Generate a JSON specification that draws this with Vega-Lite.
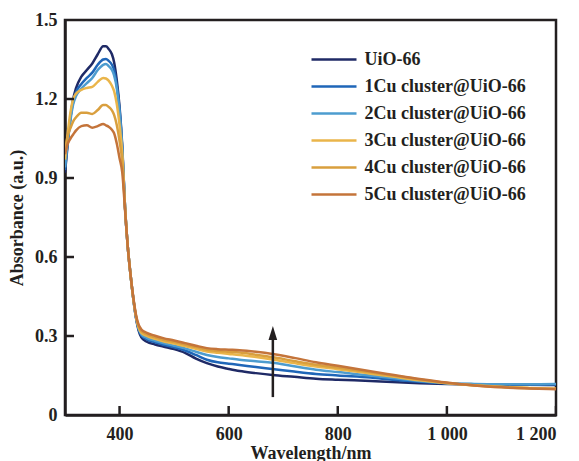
{
  "$schema": "https://vega.github.io/schema/vega-lite/v6.json",
  "autosize": {"type": "none"},
  "padding": {"left": 65, "top": 20, "right": 23, "bottom": 46},
  "width": 491,
  "height": 395,
  "config": {
    "font": "Liberation Serif",
    "view": {"stroke": "#231f20", "strokeWidth": 2.5},
    "axis": {
      "domainColor": "#231f20", "domainWidth": 2.5, "tickColor": "#231f20", "tickWidth": 2.5,
      "labelFont": "Liberation Serif", "labelFontSize": 18, "labelFontWeight": "bold",
      "labelColor": "#231f20", "titleFont": "Liberation Serif", "titleFontSize": 18, "titleFontWeight": "bold",
      "titleColor": "#231f20", "grid": false
    },
    "legend": {"labelFont": "Liberation Serif", "labelFontSize": 18, "labelFontWeight": "bold", "labelColor": "#231f20", "labelLimit": 0}
  },
  "datasets": {
    "spectra": [
      {"nm":300,"UiO-66":0.92,"1Cu cluster@UiO-66":0.93,"2Cu cluster@UiO-66":0.94,"3Cu cluster@UiO-66":0.97,"4Cu cluster@UiO-66":1.0,"5Cu cluster@UiO-66":0.99},
      {"nm":305,"UiO-66":1.03,"1Cu cluster@UiO-66":1.04,"2Cu cluster@UiO-66":1.04,"3Cu cluster@UiO-66":1.07,"4Cu cluster@UiO-66":1.06,"5Cu cluster@UiO-66":1.03},
      {"nm":310,"UiO-66":1.13,"1Cu cluster@UiO-66":1.13,"2Cu cluster@UiO-66":1.12,"3Cu cluster@UiO-66":1.15,"4Cu cluster@UiO-66":1.09,"5Cu cluster@UiO-66":1.05},
      {"nm":315,"UiO-66":1.20,"1Cu cluster@UiO-66":1.19,"2Cu cluster@UiO-66":1.18,"3Cu cluster@UiO-66":1.20,"4Cu cluster@UiO-66":1.115,"5Cu cluster@UiO-66":1.065},
      {"nm":320,"UiO-66":1.24,"1Cu cluster@UiO-66":1.225,"2Cu cluster@UiO-66":1.21,"3Cu cluster@UiO-66":1.22,"4Cu cluster@UiO-66":1.13,"5Cu cluster@UiO-66":1.08},
      {"nm":330,"UiO-66":1.285,"1Cu cluster@UiO-66":1.257,"2Cu cluster@UiO-66":1.24,"3Cu cluster@UiO-66":1.235,"4Cu cluster@UiO-66":1.148,"5Cu cluster@UiO-66":1.097},
      {"nm":340,"UiO-66":1.31,"1Cu cluster@UiO-66":1.28,"2Cu cluster@UiO-66":1.26,"3Cu cluster@UiO-66":1.242,"4Cu cluster@UiO-66":1.148,"5Cu cluster@UiO-66":1.10},
      {"nm":350,"UiO-66":1.335,"1Cu cluster@UiO-66":1.30,"2Cu cluster@UiO-66":1.28,"3Cu cluster@UiO-66":1.246,"4Cu cluster@UiO-66":1.143,"5Cu cluster@UiO-66":1.091},
      {"nm":360,"UiO-66":1.37,"1Cu cluster@UiO-66":1.33,"2Cu cluster@UiO-66":1.31,"3Cu cluster@UiO-66":1.265,"4Cu cluster@UiO-66":1.158,"5Cu cluster@UiO-66":1.097},
      {"nm":370,"UiO-66":1.40,"1Cu cluster@UiO-66":1.35,"2Cu cluster@UiO-66":1.33,"3Cu cluster@UiO-66":1.28,"4Cu cluster@UiO-66":1.177,"5Cu cluster@UiO-66":1.105},
      {"nm":375,"UiO-66":1.40,"1Cu cluster@UiO-66":1.352,"2Cu cluster@UiO-66":1.333,"3Cu cluster@UiO-66":1.278,"4Cu cluster@UiO-66":1.177,"5Cu cluster@UiO-66":1.10},
      {"nm":380,"UiO-66":1.39,"1Cu cluster@UiO-66":1.345,"2Cu cluster@UiO-66":1.325,"3Cu cluster@UiO-66":1.27,"4Cu cluster@UiO-66":1.17,"5Cu cluster@UiO-66":1.095},
      {"nm":386,"UiO-66":1.37,"1Cu cluster@UiO-66":1.33,"2Cu cluster@UiO-66":1.31,"3Cu cluster@UiO-66":1.25,"4Cu cluster@UiO-66":1.157,"5Cu cluster@UiO-66":1.083},
      {"nm":390,"UiO-66":1.34,"1Cu cluster@UiO-66":1.31,"2Cu cluster@UiO-66":1.29,"3Cu cluster@UiO-66":1.23,"4Cu cluster@UiO-66":1.14,"5Cu cluster@UiO-66":1.07},
      {"nm":395,"UiO-66":1.27,"1Cu cluster@UiO-66":1.25,"2Cu cluster@UiO-66":1.24,"3Cu cluster@UiO-66":1.18,"4Cu cluster@UiO-66":1.10,"5Cu cluster@UiO-66":1.03},
      {"nm":400,"UiO-66":1.17,"1Cu cluster@UiO-66":1.16,"2Cu cluster@UiO-66":1.15,"3Cu cluster@UiO-66":1.10,"4Cu cluster@UiO-66":1.04,"5Cu cluster@UiO-66":0.975},
      {"nm":405,"UiO-66":1.02,"1Cu cluster@UiO-66":1.01,"2Cu cluster@UiO-66":1.01,"3Cu cluster@UiO-66":0.99,"4Cu cluster@UiO-66":0.96,"5Cu cluster@UiO-66":0.92},
      {"nm":410,"UiO-66":0.79,"1Cu cluster@UiO-66":0.79,"2Cu cluster@UiO-66":0.79,"3Cu cluster@UiO-66":0.79,"4Cu cluster@UiO-66":0.79,"5Cu cluster@UiO-66":0.78},
      {"nm":415,"UiO-66":0.64,"1Cu cluster@UiO-66":0.64,"2Cu cluster@UiO-66":0.64,"3Cu cluster@UiO-66":0.64,"4Cu cluster@UiO-66":0.64,"5Cu cluster@UiO-66":0.64},
      {"nm":420,"UiO-66":0.535,"1Cu cluster@UiO-66":0.535,"2Cu cluster@UiO-66":0.535,"3Cu cluster@UiO-66":0.535,"4Cu cluster@UiO-66":0.535,"5Cu cluster@UiO-66":0.535},
      {"nm":425,"UiO-66":0.445,"1Cu cluster@UiO-66":0.445,"2Cu cluster@UiO-66":0.445,"3Cu cluster@UiO-66":0.445,"4Cu cluster@UiO-66":0.447,"5Cu cluster@UiO-66":0.45},
      {"nm":430,"UiO-66":0.37,"1Cu cluster@UiO-66":0.372,"2Cu cluster@UiO-66":0.374,"3Cu cluster@UiO-66":0.376,"4Cu cluster@UiO-66":0.378,"5Cu cluster@UiO-66":0.382},
      {"nm":435,"UiO-66":0.32,"1Cu cluster@UiO-66":0.325,"2Cu cluster@UiO-66":0.328,"3Cu cluster@UiO-66":0.332,"4Cu cluster@UiO-66":0.337,"5Cu cluster@UiO-66":0.343},
      {"nm":440,"UiO-66":0.295,"1Cu cluster@UiO-66":0.302,"2Cu cluster@UiO-66":0.307,"3Cu cluster@UiO-66":0.312,"4Cu cluster@UiO-66":0.318,"5Cu cluster@UiO-66":0.325},
      {"nm":450,"UiO-66":0.278,"1Cu cluster@UiO-66":0.287,"2Cu cluster@UiO-66":0.293,"3Cu cluster@UiO-66":0.30,"4Cu cluster@UiO-66":0.306,"5Cu cluster@UiO-66":0.312},
      {"nm":465,"UiO-66":0.268,"1Cu cluster@UiO-66":0.276,"2Cu cluster@UiO-66":0.282,"3Cu cluster@UiO-66":0.289,"4Cu cluster@UiO-66":0.295,"5Cu cluster@UiO-66":0.301},
      {"nm":480,"UiO-66":0.26,"1Cu cluster@UiO-66":0.267,"2Cu cluster@UiO-66":0.273,"3Cu cluster@UiO-66":0.28,"4Cu cluster@UiO-66":0.286,"5Cu cluster@UiO-66":0.292},
      {"nm":500,"UiO-66":0.25,"1Cu cluster@UiO-66":0.257,"2Cu cluster@UiO-66":0.263,"3Cu cluster@UiO-66":0.271,"4Cu cluster@UiO-66":0.277,"5Cu cluster@UiO-66":0.283},
      {"nm":520,"UiO-66":0.236,"1Cu cluster@UiO-66":0.245,"2Cu cluster@UiO-66":0.253,"3Cu cluster@UiO-66":0.262,"4Cu cluster@UiO-66":0.268,"5Cu cluster@UiO-66":0.273},
      {"nm":540,"UiO-66":0.214,"1Cu cluster@UiO-66":0.228,"2Cu cluster@UiO-66":0.24,"3Cu cluster@UiO-66":0.251,"4Cu cluster@UiO-66":0.258,"5Cu cluster@UiO-66":0.263},
      {"nm":560,"UiO-66":0.197,"1Cu cluster@UiO-66":0.21,"2Cu cluster@UiO-66":0.228,"3Cu cluster@UiO-66":0.241,"4Cu cluster@UiO-66":0.248,"5Cu cluster@UiO-66":0.254},
      {"nm":580,"UiO-66":0.184,"1Cu cluster@UiO-66":0.20,"2Cu cluster@UiO-66":0.22,"3Cu cluster@UiO-66":0.236,"4Cu cluster@UiO-66":0.243,"5Cu cluster@UiO-66":0.25},
      {"nm":600,"UiO-66":0.175,"1Cu cluster@UiO-66":0.195,"2Cu cluster@UiO-66":0.215,"3Cu cluster@UiO-66":0.232,"4Cu cluster@UiO-66":0.24,"5Cu cluster@UiO-66":0.248},
      {"nm":620,"UiO-66":0.167,"1Cu cluster@UiO-66":0.19,"2Cu cluster@UiO-66":0.21,"3Cu cluster@UiO-66":0.228,"4Cu cluster@UiO-66":0.237,"5Cu cluster@UiO-66":0.246},
      {"nm":650,"UiO-66":0.159,"1Cu cluster@UiO-66":0.182,"2Cu cluster@UiO-66":0.204,"3Cu cluster@UiO-66":0.22,"4Cu cluster@UiO-66":0.229,"5Cu cluster@UiO-66":0.24},
      {"nm":680,"UiO-66":0.152,"1Cu cluster@UiO-66":0.175,"2Cu cluster@UiO-66":0.198,"3Cu cluster@UiO-66":0.211,"4Cu cluster@UiO-66":0.22,"5Cu cluster@UiO-66":0.232},
      {"nm":720,"UiO-66":0.145,"1Cu cluster@UiO-66":0.165,"2Cu cluster@UiO-66":0.185,"3Cu cluster@UiO-66":0.197,"4Cu cluster@UiO-66":0.205,"5Cu cluster@UiO-66":0.217},
      {"nm":760,"UiO-66":0.138,"1Cu cluster@UiO-66":0.156,"2Cu cluster@UiO-66":0.172,"3Cu cluster@UiO-66":0.184,"4Cu cluster@UiO-66":0.191,"5Cu cluster@UiO-66":0.20},
      {"nm":800,"UiO-66":0.134,"1Cu cluster@UiO-66":0.15,"2Cu cluster@UiO-66":0.163,"3Cu cluster@UiO-66":0.174,"4Cu cluster@UiO-66":0.18,"5Cu cluster@UiO-66":0.187},
      {"nm":860,"UiO-66":0.129,"1Cu cluster@UiO-66":0.142,"2Cu cluster@UiO-66":0.15,"3Cu cluster@UiO-66":0.157,"4Cu cluster@UiO-66":0.162,"5Cu cluster@UiO-66":0.166},
      {"nm":900,"UiO-66":0.125,"1Cu cluster@UiO-66":0.134,"2Cu cluster@UiO-66":0.14,"3Cu cluster@UiO-66":0.146,"4Cu cluster@UiO-66":0.15,"5Cu cluster@UiO-66":0.153},
      {"nm":950,"UiO-66":0.121,"1Cu cluster@UiO-66":0.126,"2Cu cluster@UiO-66":0.129,"3Cu cluster@UiO-66":0.132,"4Cu cluster@UiO-66":0.135,"5Cu cluster@UiO-66":0.137},
      {"nm":1000,"UiO-66":0.118,"1Cu cluster@UiO-66":0.12,"2Cu cluster@UiO-66":0.121,"3Cu cluster@UiO-66":0.121,"4Cu cluster@UiO-66":0.122,"5Cu cluster@UiO-66":0.123},
      {"nm":1050,"UiO-66":0.116,"1Cu cluster@UiO-66":0.117,"2Cu cluster@UiO-66":0.118,"3Cu cluster@UiO-66":0.113,"4Cu cluster@UiO-66":0.112,"5Cu cluster@UiO-66":0.112},
      {"nm":1100,"UiO-66":0.115,"1Cu cluster@UiO-66":0.116,"2Cu cluster@UiO-66":0.117,"3Cu cluster@UiO-66":0.107,"4Cu cluster@UiO-66":0.106,"5Cu cluster@UiO-66":0.105},
      {"nm":1150,"UiO-66":0.115,"1Cu cluster@UiO-66":0.116,"2Cu cluster@UiO-66":0.117,"3Cu cluster@UiO-66":0.103,"4Cu cluster@UiO-66":0.102,"5Cu cluster@UiO-66":0.101},
      {"nm":1200,"UiO-66":0.114,"1Cu cluster@UiO-66":0.117,"2Cu cluster@UiO-66":0.118,"3Cu cluster@UiO-66":0.10,"4Cu cluster@UiO-66":0.10,"5Cu cluster@UiO-66":0.098}
    ],
    "arrow": [
      {"nm": 681, "from": 0.068, "to": 0.30, "head": 0.311}
    ],
    "xticks": [{"nm": 400}, {"nm": 600}, {"nm": 800}, {"nm": 1000}, {"nm": 1200}],
    "yticks": [{"abs": 0.3}, {"abs": 0.6}, {"abs": 0.9}, {"abs": 1.2}]
  },
  "layer": [
    {
      "data": {"name": "spectra"},
      "transform": [
        {"fold": ["UiO-66","1Cu cluster@UiO-66","2Cu cluster@UiO-66","3Cu cluster@UiO-66","4Cu cluster@UiO-66","5Cu cluster@UiO-66"], "as": ["series","abs"]}
      ],
      "mark": {"type": "line", "strokeWidth": 2.5, "interpolate": "monotone", "clip": true},
      "encoding": {
        "x": {"field": "nm", "type": "quantitative",
          "scale": {"domain": [300, 1200], "nice": false, "zero": false},
          "axis": {"orient": "bottom", "title": "Wavelength/nm", "values": [400, 600, 800, 1000, 1200], "ticks": false,
            "labelExpr": "datum.value >= 1000 ? '1 ' + slice(toString(datum.value), 1) : toString(datum.value)",
            "labelPadding": 10, "titlePadding": 1}},
        "y": {"field": "abs", "type": "quantitative",
          "scale": {"domain": [0, 1.5], "nice": false},
          "axis": {"orient": "left", "title": "Absorbance (a.u.)", "values": [0, 0.3, 0.6, 0.9, 1.2, 1.5], "ticks": false,
            "labelExpr": "datum.value == 0 ? '0' : format(datum.value, '.1f')",
            "labelPadding": 8, "titlePadding": 8}},
        "color": {"field": "series", "type": "nominal",
          "scale": {"domain": ["UiO-66","1Cu cluster@UiO-66","2Cu cluster@UiO-66","3Cu cluster@UiO-66","4Cu cluster@UiO-66","5Cu cluster@UiO-66"],
            "range": ["#1f2a66", "#1f66b8", "#4d9ccf", "#eab54a", "#d99f3e", "#c4743a"]},
          "legend": {"title": null, "orient": "none", "legendX": 258.5, "legendY": 29, "padding": 0,
            "symbolType": "M-2.5,0H2.5", "symbolSize": 324, "symbolStrokeWidth": 2.5,
            "labelOffset": 20, "rowPadding": 7, "labelLimit": 0}}
      }
    },
    {
      "data": {"name": "xticks"},
      "mark": {"type": "tick", "orient": "vertical", "size": 18, "thickness": 2.5, "color": "#231f20", "opacity": 1, "clip": true},
      "encoding": {
        "x": {"field": "nm", "type": "quantitative"},
        "y": {"datum": 0, "type": "quantitative"}
      }
    },
    {
      "data": {"name": "yticks"},
      "mark": {"type": "tick", "orient": "horizontal", "size": 18, "thickness": 2.5, "color": "#231f20", "opacity": 1, "clip": true},
      "encoding": {
        "x": {"datum": 300, "type": "quantitative"},
        "y": {"field": "abs", "type": "quantitative"}
      }
    },
    {
      "data": {"name": "arrow"},
      "mark": {"type": "rule", "strokeWidth": 2.5, "color": "#231f20"},
      "encoding": {
        "x": {"field": "nm", "type": "quantitative"},
        "y": {"field": "from", "type": "quantitative"},
        "y2": {"field": "to"}
      }
    },
    {
      "data": {"name": "arrow"},
      "mark": {"type": "point", "shape": "M0,-1L0.62,1L-0.62,1Z", "filled": true, "color": "#231f20", "size": 196, "opacity": 1},
      "encoding": {
        "x": {"field": "nm", "type": "quantitative"},
        "y": {"field": "head", "type": "quantitative"}
      }
    }
  ]
}
